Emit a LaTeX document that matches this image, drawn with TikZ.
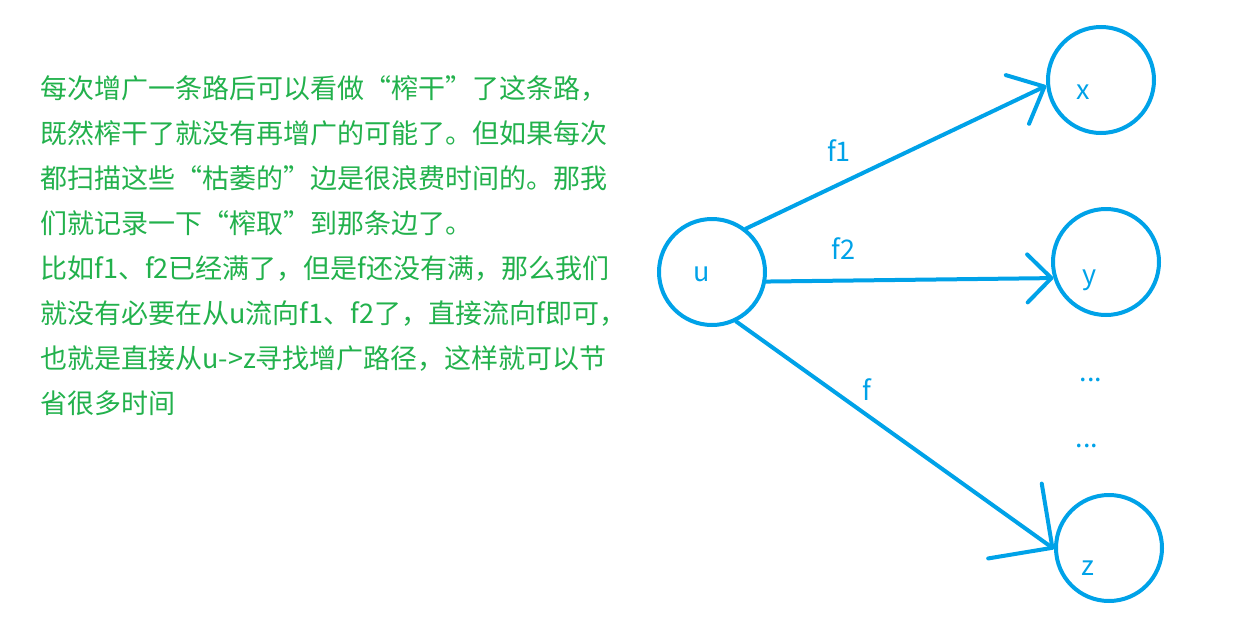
\documentclass[tikz,border=0pt]{standalone}
\usepackage{fontspec}
\setmainfont{Noto Sans CJK SC}
\usepackage{tikz}
\usetikzlibrary{arrows.meta}
\definecolor{paintblue}{HTML}{00A2E8}
\definecolor{paintgreen}{HTML}{22B14C}
\tikzset{
  vtx/.style={circle, draw=paintblue, line width=2pt, minimum size=53pt, inner sep=0pt},
  vlabel/.style={text=paintblue, inner sep=0pt},
  flow/.style={draw=paintblue, line width=2pt, line cap=round},
  barb/.style 2 args={-{Straight Barb[length=#1,width=#2,round]}},
  elabel/.style={text=paintblue},
  note/.style={text=paintgreen, align=left, inner sep=0pt},
}

\begin{document}
\begin{tikzpicture}[x=0.5pt, y=-0.5pt, font=\fontsize{13.5pt}{22.5pt}\selectfont]
\useasboundingbox (0,0) rectangle (1238,627);
\node[note, anchor=north west] (note) at (40,75) {每次增广一条路后可以看做“榨干”了这条路，\\既然榨干了就没有再增广的可能了。但如果每次\\都扫描这些“枯萎的”边是很浪费时间的。那我\\们就记录一下“榨取”到那条边了。\\比如f1、f2已经满了，但是f还没有满，那么我们\\就没有必要在从u流向f1、f2了，直接流向f即可，\\也就是直接从u->z寻找增广路径，这样就可以节\\省很多时间};
\node[vtx] (u) at (712,272) {};
\node[vtx] (x) at (1101,80) {};
\node[vtx] (y) at (1106,262) {};
\node[vtx] (z) at (1109,548) {};
\node[vlabel] (u-lab) at ([xshift=-5pt,yshift=-1pt]u.center) {u};
\node[vlabel] (x-lab) at ([xshift=-9pt,yshift=-6pt]x.center) {x};
\node[vlabel] (y-lab) at ([xshift=-8pt,yshift=-9pt]y.center) {y};
\node[vlabel] (z-lab) at ([xshift=-10.5pt,yshift=-10pt]z.center) {z};
\node[vlabel] (dots1) at (1091,380) {...};
\node[vlabel] (dots2) at (1087,446) {...};
\draw[flow, barb={15pt}{27pt}] (u.52) to node[elabel, pos=0.31, above=7pt] {f1} (x.186);
\draw[flow, barb={12pt}{24pt}] (u.350) to node[elabel, pos=0.27, above=6pt] {f2} (y.197);
\draw[flow, barb={23pt}{46pt}] (u.296) to node[elabel, pos=0.41, above=2.7pt] {f} (z.181);
\end{tikzpicture}
\end{document}
